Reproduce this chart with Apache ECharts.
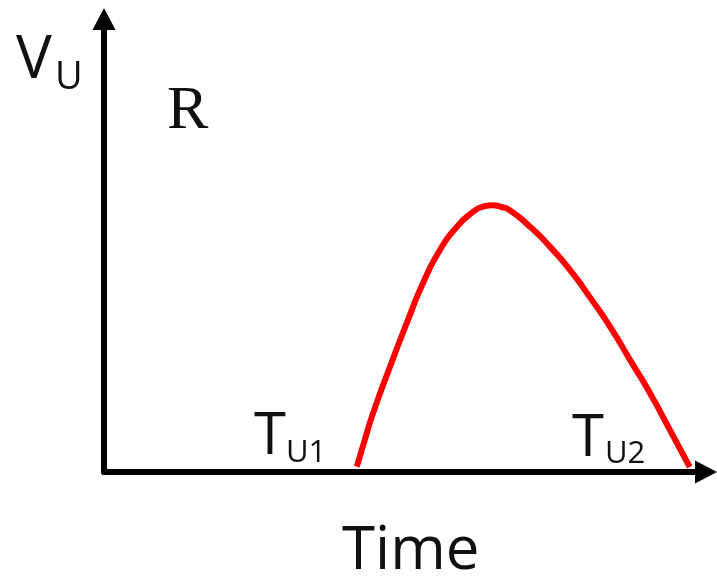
<!DOCTYPE html>
<html>
<head>
<meta charset="utf-8">
<script src="https://cdn.jsdelivr.net/npm/echarts@6/dist/echarts.min.js"></script>
<style>
  html, body { margin: 0; padding: 0; background: #fff; }
  #chart { width: 717px; height: 581px; }
</style>
</head>
<body>
<div id="chart"></div>
<script>
// time (0-100) and response value (0-100) of the R curve
const timeValues = [42.0, 43.3, 44.7, 47.5, 50.3, 53.0, 55.8, 58.6, 61.3, 63.0, 64.5, 66.0, 67.4,
                    70.8, 74.1, 77.4, 80.7, 84.1, 87.4, 90.7, 94.0, 97.3]
const curveValues = [1.2, 7.0, 13.0, 23.2, 32.9, 41.7, 49.0, 54.1, 57.4, 58.6, 58.9, 58.5, 57.8,
                     54.1, 49.7, 44.6, 38.6, 32.0, 24.7, 17.4, 9.3, 1.1]
const axisTitles = { x: 'Time', y: 'V', ySub: 'U' }
const curveName = 'R'
const markLabels = [{ main: 'T', sub: 'U1' }, { main: 'T', sub: 'U2' }]

const chart = echarts.init(document.getElementById('chart'))
const sans = '"Open Sans", "Noto Sans", sans-serif'

// 文字标签：主字母 + 下标 (left/top = 文字框左上角)
function txt(x, y, text, size, family) {
  return {
    type: 'text', left: x, top: y,
    style: {
      text: text, fill: '#111', font: size + 'px ' + (family || sans)
    },
    silent: true
  }
}

const axisStyle = {
  show: true,
  symbol: ['none', 'triangle'],
  symbolSize: [23, 22],
  lineStyle: { color: '#000', width: 6 }
}

const option = {
  animation: false,
  backgroundColor: '#fff',
  grid: { left: 104, right: 11, top: 19, bottom: 109 },
  xAxis: {
    type: 'value', min: 0, max: 100,
    axisLine: axisStyle,
    axisTick: { show: false }, axisLabel: { show: false }, splitLine: { show: false }
  },
  yAxis: {
    type: 'value', min: 0, max: 100,
    axisLine: axisStyle,
    axisTick: { show: false }, axisLabel: { show: false }, splitLine: { show: false }
  },
  series: [{
    name: curveName,
    type: 'line',
    data: timeValues.map((t, i) => [t, curveValues[i]]),
    smooth: 0.6,
    showSymbol: false,
    lineStyle: { color: '#ff0000', width: 6, cap: 'butt' },
    z: 1
  }],
  graphic: [
    txt(16, 31, axisTitles.y, 60),
    txt(55, 59, axisTitles.ySub, 38),
    txt(167, 81, curveName, 62, '"Liberation Serif", "DejaVu Serif", serif'),
    txt(254, 408, markLabels[0].main, 58),
    txt(286, 438, markLabels[0].sub, 31),
    txt(572, 410, markLabels[1].main, 58),
    txt(605, 439, markLabels[1].sub, 31),
    txt(342, 522, axisTitles.x, 60)
  ]
}
chart.setOption(option)
</script>
</body>
</html>
